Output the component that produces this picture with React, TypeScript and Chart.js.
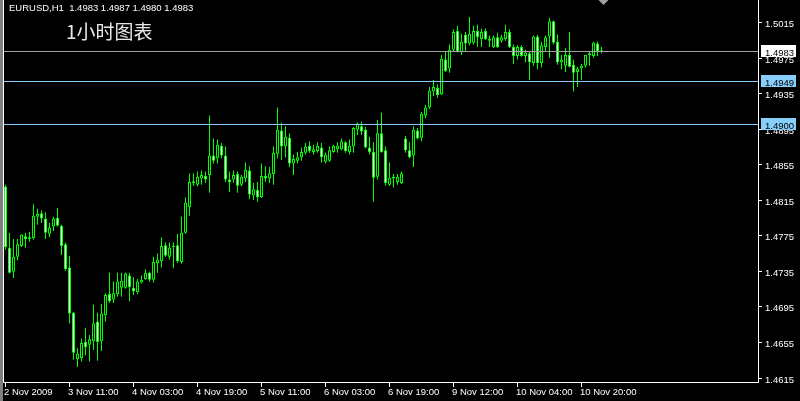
import React, { useEffect, useRef } from 'react';
import { Chart, registerables } from 'chart.js';

Chart.register(...registerables);

const headerText = 'EURUSD,H1  1.4983 1.4987 1.4980 1.4983';
const captionText = '1小时图表';

const opens = [
  1.4830, 1.4761, 1.4734, 1.4751, 1.4763, 1.4774, 1.4771, 1.4772, 1.4796, 1.4800,
  1.4794, 1.4777, 1.4785, 1.4795, 1.4786, 1.4765, 1.4739, 1.4688, 1.4636, 1.4637,
  1.4655, 1.4652, 1.4656, 1.4678, 1.4656, 1.4685, 1.4709, 1.4703, 1.4709, 1.4716,
  1.4716, 1.4730, 1.4716, 1.4711, 1.4722, 1.4726, 1.4733, 1.4725, 1.4744, 1.4746,
  1.4764, 1.4751, 1.4762, 1.4764, 1.4745, 1.4778, 1.4807, 1.4836, 1.4832, 1.4839,
  1.4842, 1.4843, 1.4865, 1.4862, 1.4876, 1.4865, 1.4838, 1.4838, 1.4844, 1.4832,
  1.4839, 1.4848, 1.4820, 1.4826, 1.4818, 1.4842, 1.4839, 1.4844, 1.4867, 1.4893,
  1.4875, 1.4885, 1.4856, 1.4859, 1.4863, 1.4868, 1.4876, 1.4869, 1.4870, 1.4874,
  1.4858, 1.4859, 1.4869, 1.4872, 1.4872, 1.4880, 1.4869, 1.4875, 1.4894, 1.4898,
  1.4894, 1.4874, 1.4869, 1.4841, 1.4890, 1.4871, 1.4832, 1.4841, 1.4835, 1.4834,
  1.4884, 1.4871, 1.4865, 1.4893, 1.4885, 1.4910, 1.4919, 1.4937, 1.4941, 1.4934,
  1.4973, 1.4963, 1.4984, 1.5005, 1.4981, 1.5001, 1.4991, 1.4992, 1.5005, 1.4996,
  1.5005, 1.4996, 1.4987, 1.4998, 1.4994, 1.4996, 1.5004, 1.4987, 1.4977, 1.4987,
  1.4977, 1.4980, 1.4969, 1.4999, 1.4969, 1.4987, 1.4999, 1.5016, 1.4993, 1.4970,
  1.4966, 1.4978, 1.4967, 1.4959, 1.4963, 1.4966, 1.4978, 1.4977, 1.4991, 1.4983,
];

const highs = [
  1.4832, 1.4778, 1.4771, 1.4771, 1.4776, 1.4778, 1.4779, 1.4810, 1.4805, 1.4803,
  1.4801, 1.4789, 1.4796, 1.4806, 1.4787, 1.4767, 1.4752, 1.4689, 1.4648, 1.4659,
  1.4671, 1.4663, 1.4697, 1.4688, 1.4698, 1.4710, 1.4733, 1.4723, 1.4733, 1.4733,
  1.4733, 1.4733, 1.4728, 1.4726, 1.4730, 1.4737, 1.4734, 1.4751, 1.4755, 1.4773,
  1.4767, 1.4767, 1.4767, 1.4777, 1.4796, 1.4818, 1.4845, 1.4845, 1.4847, 1.4848,
  1.4847, 1.4910, 1.4884, 1.4883, 1.4879, 1.4875, 1.4847, 1.4848, 1.4847, 1.4843,
  1.4857, 1.4853, 1.4834, 1.4835, 1.4856, 1.4853, 1.4852, 1.4875, 1.4919, 1.4902,
  1.4898, 1.4890, 1.4866, 1.4869, 1.4874, 1.4879, 1.4881, 1.4877, 1.4880, 1.4879,
  1.4868, 1.4875, 1.4877, 1.4880, 1.4884, 1.4881, 1.4883, 1.4897, 1.4902, 1.4903,
  1.4897, 1.4886, 1.4880, 1.4905, 1.4913, 1.4875, 1.4857, 1.4844, 1.4844, 1.4847,
  1.4887, 1.4880, 1.4898, 1.4896, 1.4914, 1.4922, 1.4942, 1.4950, 1.4945, 1.4978,
  1.4982, 1.4990, 1.5007, 1.5011, 1.5002, 1.5004, 1.5021, 1.5011, 1.5012, 1.5008,
  1.5008, 1.5000, 1.5000, 1.5003, 1.5001, 1.5012, 1.5007, 1.4990, 1.4989, 1.4989,
  1.4984, 1.4982, 1.5000, 1.5001, 1.4993, 1.5000, 1.5020, 1.5017, 1.5001, 1.4978,
  1.4986, 1.5004, 1.4973, 1.4965, 1.4968, 1.4978, 1.4982, 1.4993, 1.4993, 1.4987,
];

const lows = [
  1.4759, 1.4732, 1.4727, 1.4747, 1.4762, 1.4761, 1.4768, 1.4770, 1.4787, 1.4789,
  1.4771, 1.4773, 1.4780, 1.4785, 1.4753, 1.4735, 1.4676, 1.4635, 1.4627, 1.4633,
  1.4640, 1.4633, 1.4646, 1.4634, 1.4645, 1.4678, 1.4699, 1.4699, 1.4706, 1.4706,
  1.4715, 1.4701, 1.4708, 1.4709, 1.4721, 1.4725, 1.4723, 1.4722, 1.4733, 1.4739,
  1.4751, 1.4748, 1.4738, 1.4744, 1.4743, 1.4777, 1.4797, 1.4831, 1.4830, 1.4832,
  1.4834, 1.4823, 1.4856, 1.4856, 1.4862, 1.4835, 1.4824, 1.4834, 1.4823, 1.4830,
  1.4835, 1.4816, 1.4815, 1.4813, 1.4817, 1.4835, 1.4834, 1.4832, 1.4862, 1.4860,
  1.4863, 1.4852, 1.4843, 1.4856, 1.4859, 1.4866, 1.4868, 1.4866, 1.4868, 1.4857,
  1.4856, 1.4858, 1.4868, 1.4868, 1.4871, 1.4868, 1.4866, 1.4868, 1.4888, 1.4888,
  1.4873, 1.4866, 1.4813, 1.4838, 1.4868, 1.4831, 1.4831, 1.4829, 1.4832, 1.4833,
  1.4868, 1.4862, 1.4852, 1.4883, 1.4881, 1.4907, 1.4917, 1.4932, 1.4930, 1.4933,
  1.4959, 1.4958, 1.4982, 1.4981, 1.4978, 1.4982, 1.4989, 1.4990, 1.4987, 1.4987,
  1.4995, 1.4987, 1.4986, 1.4986, 1.4992, 1.4994, 1.4986, 1.4968, 1.4973, 1.4976,
  1.4970, 1.4950, 1.4966, 1.4962, 1.4964, 1.4982, 1.4975, 1.4990, 1.4967, 1.4962,
  1.4959, 1.4964, 1.4937, 1.4942, 1.4950, 1.4964, 1.4966, 1.4975, 1.4977, 1.4980,
];

const closes = [
  1.4762, 1.4733, 1.4751, 1.4765, 1.4776, 1.4771, 1.4773, 1.4797, 1.4799, 1.4794,
  1.4778, 1.4784, 1.4794, 1.4786, 1.4763, 1.4737, 1.4687, 1.4643, 1.4642, 1.4654,
  1.4649, 1.4658, 1.4676, 1.4655, 1.4687, 1.4708, 1.4701, 1.4710, 1.4723, 1.4724,
  1.4732, 1.4717, 1.4712, 1.4723, 1.4725, 1.4733, 1.4725, 1.4745, 1.4748, 1.4763,
  1.4752, 1.4761, 1.4763, 1.4746, 1.4778, 1.4812, 1.4835, 1.4834, 1.4841, 1.4843,
  1.4838, 1.4865, 1.4859, 1.4877, 1.4865, 1.4838, 1.4835, 1.4843, 1.4831, 1.4841,
  1.4849, 1.4821, 1.4827, 1.4818, 1.4842, 1.4839, 1.4845, 1.4868, 1.4894, 1.4875,
  1.4886, 1.4856, 1.4861, 1.4863, 1.4869, 1.4875, 1.4870, 1.4872, 1.4876, 1.4863,
  1.4866, 1.4871, 1.4876, 1.4876, 1.4881, 1.4870, 1.4876, 1.4896, 1.4901, 1.4892,
  1.4874, 1.4869, 1.4840, 1.4890, 1.4869, 1.4834, 1.4840, 1.4839, 1.4841, 1.4845,
  1.4871, 1.4863, 1.4894, 1.4884, 1.4912, 1.4919, 1.4938, 1.4942, 1.4933, 1.4974,
  1.4960, 1.4984, 1.5004, 1.4982, 1.4993, 1.4991, 1.5002, 1.5005, 1.4998, 1.5004,
  1.4996, 1.4994, 1.4998, 1.4987, 1.4998, 1.5004, 1.4987, 1.4977, 1.4987, 1.4977,
  1.4981, 1.4970, 1.4999, 1.4969, 1.4989, 1.4998, 1.5016, 1.4992, 1.4970, 1.4973,
  1.4978, 1.4965, 1.4958, 1.4963, 1.4966, 1.4978, 1.4980, 1.4992, 1.4982, 1.4983,
];

const timeTickIndex = [0, 16, 32, 48, 64, 80, 96, 112, 128, 144];
const timeTickLabels = [
  '2 Nov 2009', '3 Nov 11:00', '4 Nov 03:00', '4 Nov 19:00', '5 Nov 11:00',
  '6 Nov 03:00', '6 Nov 19:00', '9 Nov 12:00', '10 Nov 04:00', '10 Nov 20:00',
];
const priceTicks = [1.5015, 1.4975, 1.4935, 1.4895, 1.4855, 1.4815, 1.4775, 1.4735, 1.4695, 1.4655, 1.4615];
const levelPrices = [1.4983, 1.4949, 1.4900];

const GREEN = '#00ff00';
const levelLineColors = ['#a0a0a4', '#87cefa', '#87cefa'];
const levelBoxColors = ['#ffffff', '#87cefa', '#87cefa'];
const AXIS_FONT = '9.5px "Liberation Sans", Arial, sans-serif';

const mt4Plugin = {
  id: 'mt4Look',
  beforeDraw(chart: any) {
    const { ctx, width, height } = chart;
    ctx.save();
    ctx.fillStyle = '#000000';
    ctx.fillRect(0, 0, width, height);
    ctx.restore();
  },
  afterDatasetsDraw(chart: any) {
    const { ctx, chartArea } = chart;
    const yScale = chart.scales.y;
    ctx.save();
    ctx.lineWidth = 1;
    levelPrices.forEach((p, k) => {
      const y = Math.round(yScale.getPixelForValue(p)) + 0.5;
      ctx.strokeStyle = levelLineColors[k];
      ctx.beginPath();
      ctx.moveTo(chartArea.left, y);
      ctx.lineTo(chartArea.right, y);
      ctx.stroke();
    });
    ctx.restore();
  },
  afterDraw(chart: any) {
    const { ctx, chartArea } = chart;
    const xScale = chart.scales.x;
    const yScale = chart.scales.y;
    const right = chartArea.right;
    const bottom = chartArea.bottom;
    ctx.save();

    // window edge + chart frame
    ctx.fillStyle = '#808080';
    ctx.fillRect(0, 0, 3, chart.height);
    ctx.strokeStyle = '#ffffff';
    ctx.lineWidth = 1;
    ctx.beginPath();
    ctx.moveTo(3.5, 0);
    ctx.lineTo(3.5, bottom + 0.5);
    ctx.lineTo(right + 0.5, bottom + 0.5);
    ctx.lineTo(right + 0.5, 0);
    ctx.stroke();

    // price axis
    ctx.font = AXIS_FONT;
    ctx.textAlign = 'left';
    ctx.textBaseline = 'alphabetic';
    priceTicks.forEach((p) => {
      const y = Math.round(yScale.getPixelForValue(p));
      ctx.strokeStyle = '#ffffff';
      ctx.beginPath();
      ctx.moveTo(right + 1, y + 0.5);
      ctx.lineTo(right + 4, y + 0.5);
      ctx.stroke();
      ctx.fillStyle = '#ffffff';
      ctx.fillText(p.toFixed(4), right + 7, y + 5);
    });

    // level boxes on price axis
    levelPrices.forEach((p, k) => {
      const y = Math.round(yScale.getPixelForValue(p));
      ctx.fillStyle = levelBoxColors[k];
      ctx.fillRect(right + 3, y - 6, 35, 12);
      ctx.fillStyle = '#000000';
      ctx.fillText(p.toFixed(4), right + 7, y + 5);
    });

    // time axis
    timeTickIndex.forEach((idx, k) => {
      const x = Math.floor(xScale.getPixelForValue(idx)) + 0.5;
      ctx.strokeStyle = '#ffffff';
      ctx.beginPath();
      ctx.moveTo(x, bottom + 1);
      ctx.lineTo(x, bottom + 5);
      ctx.stroke();
      ctx.fillStyle = '#ffffff';
      ctx.fillText(timeTickLabels[k], x - 1.5, bottom + 13);
    });

    // header
    ctx.fillStyle = '#ffffff';
    ctx.font = '9.5px "Liberation Sans", Arial, sans-serif';
    ctx.fillText(headerText, 9, 11);

    ctx.fillStyle = '#e8e8e8';
    ctx.font = '19px "Noto Sans CJK SC", sans-serif';
    ctx.fillText(captionText, 66, 39);

    // chart shift marker
    const sx = xScale.getPixelForValue(opens.length - 0.5);
    ctx.fillStyle = '#a0a0a0';
    ctx.beginPath();
    ctx.moveTo(sx - 5, 0);
    ctx.lineTo(sx + 5, 0);
    ctx.lineTo(sx, 5);
    ctx.closePath();
    ctx.fill();

    ctx.restore();
  },
};

export default function App() {
  const canvasRef = useRef<HTMLCanvasElement | null>(null);

  useEffect(() => {
    document.body.style.margin = '0';
    document.body.style.background = '#000';
    const canvas = canvasRef.current;
    if (!canvas) return;

    const bodyData = opens.map((o, i) => ({ x: i, y: [o, closes[i]] }));
    const wickData = lows.map((l, i) => ({ x: i, y: [l, highs[i]] }));
    const bodyFill = opens.map((o, i) => (closes[i] < o ? '#ffffff' : '#000000'));

    const chart = new Chart(canvas, {
      type: 'bar',
      data: {
        datasets: [
          {
            label: 'body',
            data: bodyData as any,
            backgroundColor: bodyFill,
            borderColor: GREEN,
            borderWidth: 1,
            borderSkipped: false,
            barThickness: 3,
            grouped: false,
            minBarLength: 1,
            inflateAmount: 0,
            order: 0,
          } as any,
          {
            label: 'wick',
            data: wickData as any,
            backgroundColor: GREEN,
            borderWidth: 0,
            barThickness: 1,
            grouped: false,
            inflateAmount: 0,
            order: 1,
          } as any,
        ],
      },
      options: {
        responsive: false,
        animation: false,
        devicePixelRatio: 1,
        events: [],
        layout: { padding: { left: 4, right: 42, top: 0, bottom: 19 } },
        plugins: { legend: { display: false }, tooltip: { enabled: false } },
        scales: {
          x: { type: 'linear', display: false, min: -0.375, max: 188.125, offset: false },
          y: { type: 'linear', display: false, min: 1.461, max: 1.504 },
        },
      } as any,
      plugins: [mt4Plugin],
    });

    return () => chart.destroy();
  }, []);

  return <canvas ref={canvasRef} width={800} height={401} style={{ display: 'block' }} />;
}
